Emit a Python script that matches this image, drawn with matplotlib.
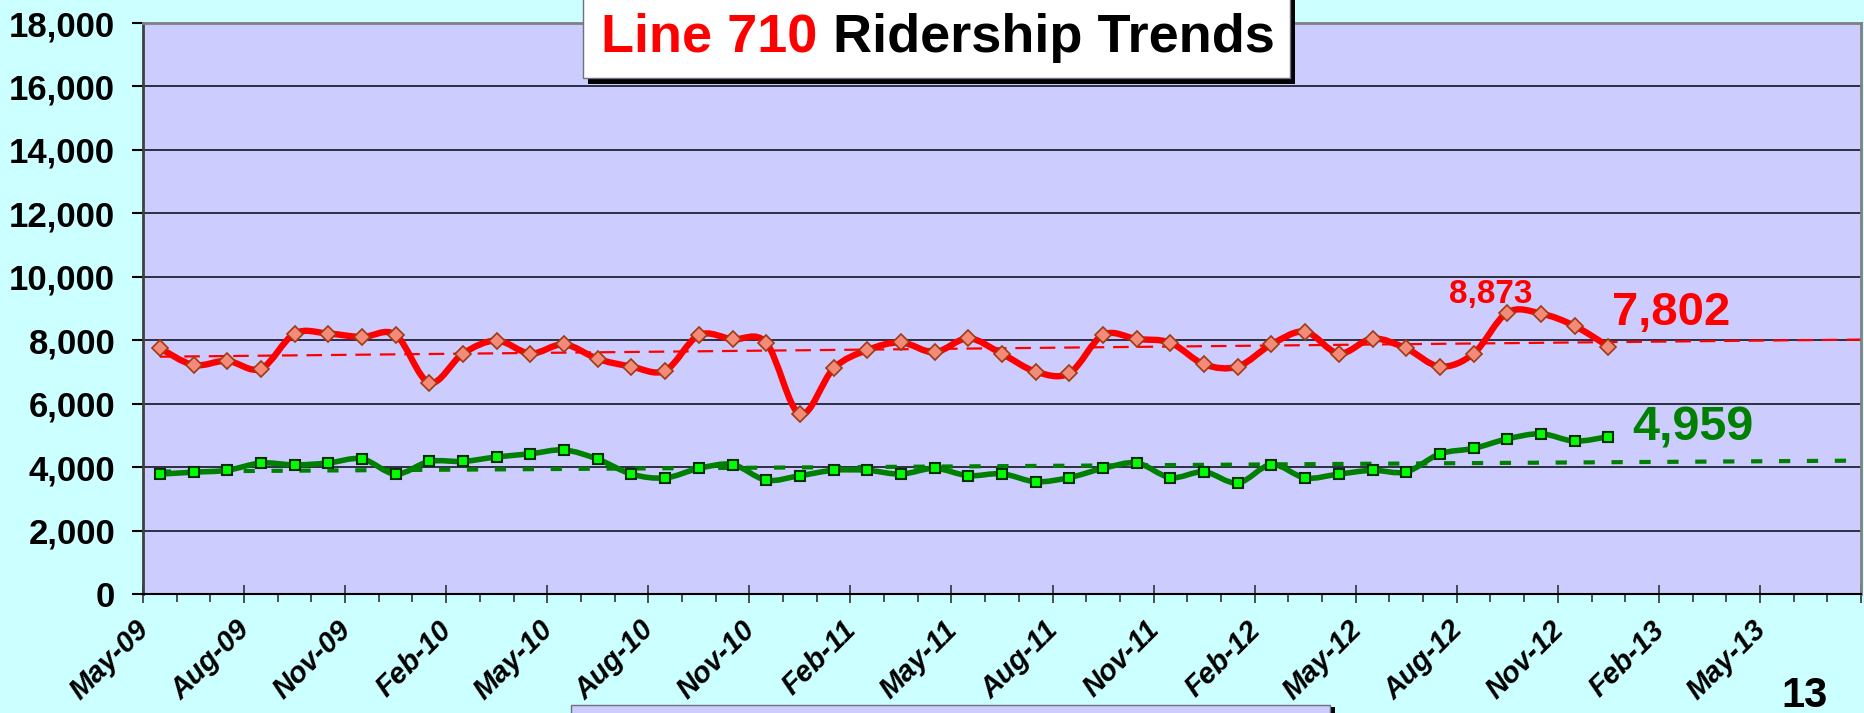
import numpy as np
import matplotlib
matplotlib.use('Agg')
import matplotlib.pyplot as plt
import matplotlib.transforms as mtransforms
from matplotlib.path import Path
from matplotlib.patches import PathPatch, Rectangle
from matplotlib.ticker import FuncFormatter

plt.rcParams['font.family'] = ['Liberation Sans', 'DejaVu Sans']

W, H = 1864, 713

# month labels on the x axis (one every 3 months, May-09 .. May-13)
tick_labels = ['May-09', 'Aug-09', 'Nov-09', 'Feb-10', 'May-10', 'Aug-10', 'Nov-10',
               'Feb-11', 'May-11', 'Aug-11', 'Nov-11', 'Feb-12', 'May-12', 'Aug-12',
               'Nov-12', 'Feb-13', 'May-13']

# monthly ridership, May-09 .. Dec-12
red_riders = [7750, 7220, 7350, 7100, 8210, 8210, 8100, 8170, 6660, 7580,
              7990, 7580, 7870, 7410, 7170, 7040, 8160, 8030, 7920, 5670,
              7110, 7690, 7930, 7620, 8060, 7570, 7010, 6960, 8170, 8040,
              7920, 7240, 7170, 7870, 8270, 7580, 8050, 7740, 7170, 7580,
              8873, 8840, 8450, 7802]
green_riders = [3780, 3840, 3900, 4130, 4070, 4130, 4260, 3780, 4180, 4180,
                4320, 4420, 4540, 4250, 3780, 3660, 3960, 4080, 3590, 3730,
                3900, 3900, 3780, 3960, 3730, 3790, 3540, 3670, 3960, 4130,
                3670, 3850, 3500, 4080, 3660, 3780, 3900, 3850, 4420, 4590,
                4890, 5050, 4820, 4959]

# trend lines (start at first month, end at right edge of axis)
red_trend = [7480, 8020]
green_trend = [3860, 4205]


def px(x, y):
    # pixel coords (from top left) -> figure fraction
    return x / W, 1 - y / H


def smooth_path(xs, ys):
    # excel style smoothed line as bezier segments through the points
    n = len(xs)
    verts = [(xs[0], ys[0])]
    codes = [Path.MOVETO]
    for i in range(n - 1):
        a = max(i - 1, 0)
        b = min(i + 2, n - 1)
        c1 = (xs[i] + (xs[i + 1] - xs[a]) / 6, ys[i] + (ys[i + 1] - ys[a]) / 6)
        c2 = (xs[i + 1] - (xs[b] - xs[i]) / 6, ys[i + 1] - (ys[b] - ys[i]) / 6)
        verts += [c1, c2, (xs[i + 1], ys[i + 1])]
        codes += [Path.CURVE4] * 3
    return Path(verts, codes)


fig = plt.figure(figsize=(W / 100, H / 100), dpi=100, facecolor='#CCFFFF')
ax = fig.add_axes([143 / W, 119 / H, 1718 / W, 571 / H])
ax.set_facecolor('#CCCCFF')

n_months = 51
x = np.arange(len(red_riders)) + 0.5

ax.set_xlim(0, n_months)
ax.set_ylim(0, 18000)

# trends
ax.plot([x[0], n_months], red_trend, color='red', lw=1.6, dashes=(7, 4), zorder=2)
ax.plot([x[0], n_months], green_trend, color='#008000', lw=3, dashes=(2.7, 4), zorder=2)

# smoothed series
ax.add_patch(PathPatch(smooth_path(x, red_riders), fill=False, edgecolor='red',
                       lw=4.6, capstyle='round', joinstyle='round', zorder=3))
ax.add_patch(PathPatch(smooth_path(x, green_riders), fill=False, edgecolor='#008000',
                       lw=4.0, capstyle='round', joinstyle='round', zorder=3))
ax.plot(x, red_riders, ls='none', marker='D', ms=8, mfc='#F48A7A', mec='#A03A10',
        mew=1.2, zorder=4)
ax.plot(x, green_riders, ls='none', marker='s', ms=7.5, mfc='#00FF00', mec='#003300',
        mew=1.5, zorder=4)

# data labels
ax.text(40.0, 9170, '8,873', color='red', fontsize=24, fontweight='bold', ha='center',
        va='baseline')
ax.text(43.6, 8480, '7,802', color='red', fontsize=34, fontweight='bold', ha='left',
        va='baseline')
ax.text(44.2, 4850, '4,959', color='#008000', fontsize=35, fontweight='bold', ha='left',
        va='baseline')

# grid + spines
ax.yaxis.grid(True, color='#222233', lw=1.3)
ax.set_axisbelow(True)
for s in ['top', 'right']:
    ax.spines[s].set_color('#808080')
    ax.spines[s].set_linewidth(2)
ax.spines['left'].set_color('#404040')
ax.spines['left'].set_linewidth(2)
ax.spines['bottom'].set_color('black')
ax.spines['bottom'].set_linewidth(1.5)

# y axis
ax.set_yticks(range(0, 18001, 2000))
ax.yaxis.set_major_formatter(FuncFormatter(lambda v, p: '{:,}'.format(int(v))))
ax.tick_params(axis='y', direction='out', length=8, width=1.5, pad=12, labelsize=25,
               color='black')
for lbl in ax.get_yticklabels():
    lbl.set_fontweight('bold')

# x axis
ax.set_xticks(range(0, n_months + 1, 3))
ax.set_xticks(range(0, n_months + 1), minor=True)
ax.set_xticklabels(tick_labels + [''], rotation=45, ha='right', rotation_mode='anchor',
                   fontsize=21, fontweight='bold', fontstyle='italic')
ax.tick_params(axis='x', which='major', direction='inout', length=13, width=1.2,
               color='#333333', pad=0)
ax.tick_params(axis='x', which='minor', direction='out', length=6, width=1.2,
               color='#333333')
shift = mtransforms.ScaledTranslation(-6 / 72, -9 / 72, fig.dpi_scale_trans)
for lbl in ax.get_xticklabels():
    lbl.set_transform(lbl.get_transform() + shift)

# title box with shadow
x0, y0 = px(588, 84)
fig.patches.append(Rectangle((x0, y0), 707 / W, 90 / H, transform=fig.transFigure,
                             facecolor='black', edgecolor='none', zorder=5))
x0, y0 = px(583, 78)
fig.patches.append(Rectangle((x0, y0), 707 / W, 90 / H, transform=fig.transFigure,
                             facecolor='white', edgecolor='#707080', lw=1, zorder=6))
t1 = fig.text(0, px(0, 52)[1], 'Line 710', color='red', fontsize=39, fontweight='bold',
              ha='left', va='baseline', zorder=7)
t2 = fig.text(0, px(0, 52)[1], ' Ridership Trends', color='black', fontsize=39,
              fontweight='bold', ha='left', va='baseline', zorder=7)
fig.canvas.draw()
r = fig.canvas.get_renderer()
w1 = t1.get_window_extent(r).width
w2 = t2.get_window_extent(r).width
start = 938 - (w1 + w2) / 2
t1.set_x(start / W)
t2.set_x((start + w1) / W)

# partial box cut off at the bottom
x0, y0 = px(576, 713)
fig.patches.append(Rectangle((x0, y0 - 2 / H), 759 / W, 8 / H, transform=fig.transFigure,
                             facecolor='black', edgecolor='none', zorder=5))
x0, y0 = px(571, 713)
fig.patches.append(Rectangle((x0, y0 - 2 / H), 759 / W, 10 / H, transform=fig.transFigure,
                             facecolor='#CCCCFF', edgecolor='#707080', lw=1, zorder=6))

# slide number
fig.text(1804 / W, px(0, 707)[1], '13', fontsize=30, fontweight='bold', ha='center',
         va='baseline')

fig.savefig('out.png', dpi=100, facecolor=fig.get_facecolor())
